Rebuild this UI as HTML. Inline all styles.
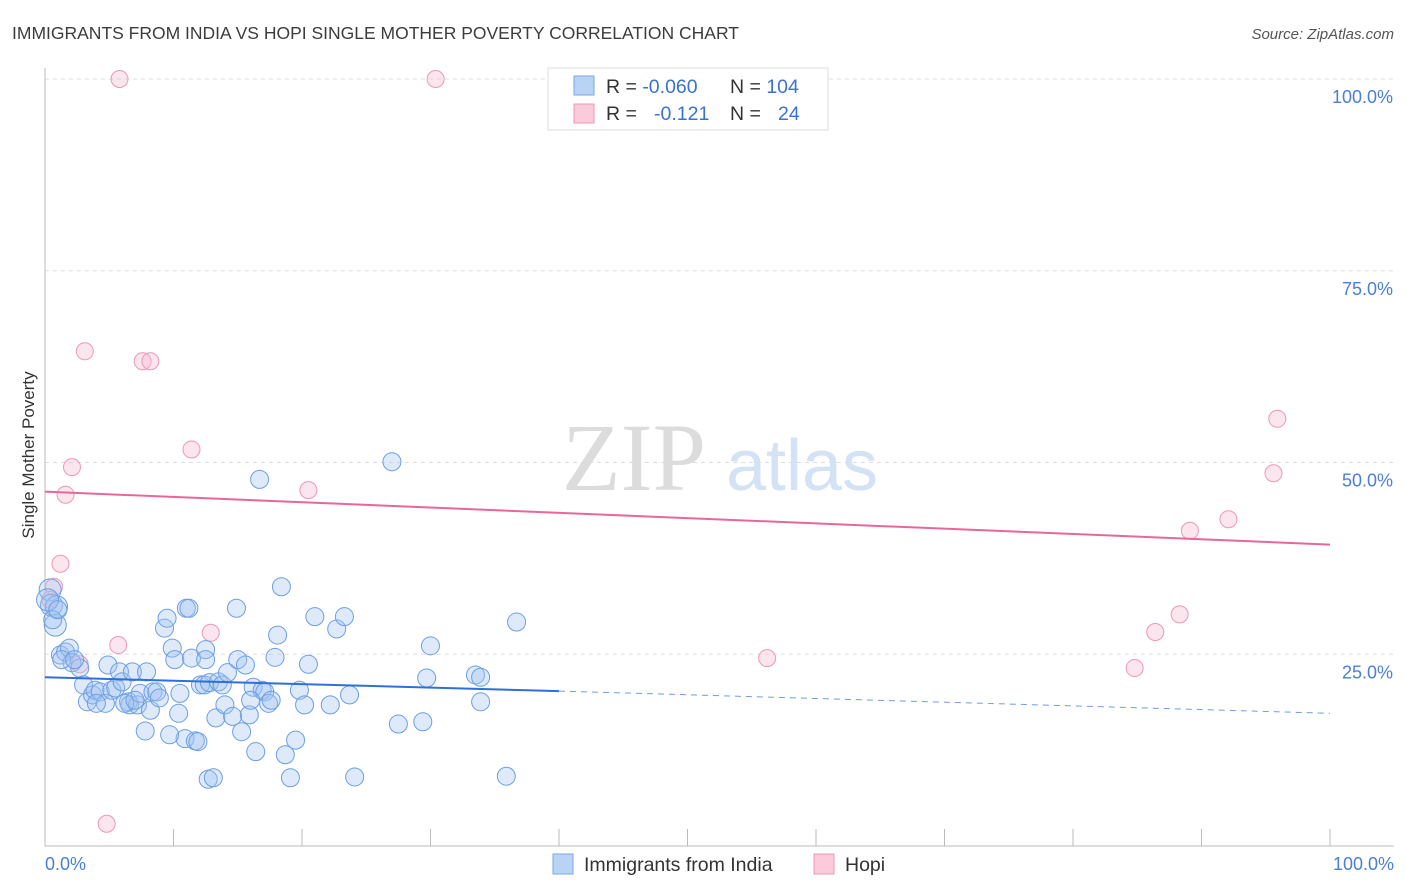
<!DOCTYPE html>
<html><head><meta charset="utf-8"><style>
body{margin:0;background:#fff;font-family:"Liberation Sans",sans-serif}
svg{display:block}
</style></head><body>
<svg id="chart" width="1406" height="892">
<text x="12" y="39" font-size="17.5" fill="#3c3c3c">IMMIGRANTS FROM INDIA VS HOPI SINGLE MOTHER POVERTY CORRELATION CHART</text>
<text x="1394" y="39" font-size="15" fill="#555" font-style="italic" text-anchor="end">Source: ZipAtlas.com</text>
<g>
<text x="634" y="490" font-size="96" font-family="Liberation Serif,serif" fill="#dcdcdc" text-anchor="middle">ZIP</text>
<text x="802" y="490" font-size="72" fill="#d4e2f5" text-anchor="middle">atlas</text>
</g>
<g id="grid"></g>
<g id="axes"></g>
<g id="pts"></g>
<g id="lines"></g>
<text x="34" y="455" font-size="17" fill="#333" text-anchor="middle" transform="rotate(-90 34 455)">Single Mother Poverty</text>
<text x="45" y="870" font-size="18" fill="#4a7fd4">0.0%</text>
<text x="1394" y="870" font-size="18" fill="#4a7fd4" text-anchor="end">100.0%</text>
<g>
<rect x="548" y="68" width="280" height="62" fill="#fff" stroke="#ddd"/>
<rect x="574" y="76" width="20" height="19" fill="#b9d3f5" stroke="#7aa6e6"/>
<rect x="574" y="104" width="20" height="19" fill="#fbcadb" stroke="#ee97b5"/>
<text x="606" y="93" font-size="19.5" fill="#333">R = <tspan fill="#3a72d0">-0.060</tspan><tspan x="730">N = </tspan><tspan fill="#3a72d0">104</tspan></text>
<text x="606" y="120" font-size="19.5" fill="#333">R = <tspan x="654" fill="#3a72d0">-0.121</tspan><tspan x="730">N = </tspan><tspan x="778" fill="#3a72d0">24</tspan></text>
</g>
<g>
<rect x="553" y="854" width="20" height="20" fill="#b9d3f5" stroke="#7aa6e6"/>
<text x="584" y="871" font-size="19.5" fill="#333">Immigrants from India</text>
<rect x="814" y="854" width="20" height="20" fill="#fbcadb" stroke="#ee97b5"/>
<text x="845" y="871" font-size="19.5" fill="#333">Hopi</text>
</g>
</svg>
<script>
const indiaX=[0.4,0.5,0.8,0.9,0.2,1.2,1.6,1.9,2.1,2.7,3.0,3.3,3.7,3.9,4.3,4.7,4.9,5.2,5.5,5.8,6.0,6.5,6.6,6.8,7.2,7.4,7.8,7.9,8.2,8.4,8.7,8.9,9.3,9.5,9.9,10.1,10.4,10.5,10.9,11.0,11.2,11.4,11.7,11.9,12.1,12.4,12.5,12.7,12.8,13.1,13.3,13.5,13.8,14.0,14.2,14.6,14.9,15.0,15.3,15.6,15.9,16.2,16.4,16.7,16.9,17.1,17.4,17.6,17.9,18.1,18.4,18.7,19.1,19.8,20.2,20.5,21.0,22.2,22.7,23.3,23.7,24.1,27.0,27.5,29.4,29.7,30.0,33.5,33.9,33.9,35.9,36.7,0.6,1.0,1.3,2.3,4.0,6.2,7.0,9.7,12.5,16.0,19.5];
const indiaY=[33.4,31.4,28.8,31.2,32.1,24.9,25.3,25.8,23.9,23.2,21.0,18.8,19.7,20.3,20.1,18.6,23.6,20.3,20.6,22.7,21.4,18.8,18.4,22.7,18.4,19.9,15.0,22.7,17.7,20.1,20.1,19.3,28.4,29.7,25.8,24.3,17.3,19.9,14.0,31.0,31.0,24.5,13.7,13.6,21.0,21.0,25.6,8.7,21.3,8.9,16.7,21.4,21.0,18.4,22.6,16.9,31.0,24.3,14.9,23.6,17.1,20.7,12.3,47.8,20.3,20.1,18.6,19.0,24.6,27.5,33.8,11.9,8.9,20.3,18.4,23.7,29.9,18.4,28.3,29.9,19.7,9.0,50.1,15.9,16.2,21.9,26.1,22.3,22.0,18.8,9.1,29.2,29.5,30.8,24.3,24.3,18.6,18.6,19.0,14.5,24.3,19.0,13.8];
const hopiX=[5.8,30.4,3.1,7.6,8.2,11.4,2.1,1.6,20.5,1.2,0.7,0.4,5.7,12.9,4.8,56.2,84.8,86.4,88.3,89.1,92.1,95.6,95.9,2.7];
const hopiY=[100,100,64.5,63.2,63.2,51.7,49.4,45.8,46.4,36.8,33.8,32.1,26.2,27.8,2.9,24.5,23.2,27.9,30.2,41.1,42.6,48.6,55.7,23.7];
const indiaTrend=[22.0,20.2,17.3]; // y at x=0, 40, 100
const hopiTrend=[46.2,39.3];
const yTicks=[25,50,75,100];
const yTickLabels=["25.0%","50.0%","75.0%","100.0%"];
const xTickCount=10;

const X0=45,X1=1330,Y0=846,Y1=79;
const sx=v=>X0+(X1-X0)*v/100, sy=v=>Y0-(Y0-Y1)*v/100;
const NS="http://www.w3.org/2000/svg";
function mk(t,a,p){const e=document.createElementNS(NS,t);for(const k in a)e.setAttribute(k,a[k]);p.appendChild(e);return e;}
const grid=document.getElementById('grid'),axes=document.getElementById('axes');
yTicks.forEach((t,i)=>{
 const l=mk('line',{x1:X0,x2:1394,y1:sy(t),y2:sy(t),stroke:'#ddd','stroke-dasharray':'4,4'},grid);
 
 
 const tx=mk('text',{x:1393,y:sy(t)+24,'font-size':18,fill:'#4a7fd4','text-anchor':'end'},axes);
 tx.textContent=yTickLabels[i];
 
 
});
mk('line',{x1:X0,x2:X0,y1:68,y2:Y0,stroke:'#bbb'},axes);
mk('line',{x1:X0,x2:1394,y1:Y0,y2:Y0,stroke:'#bbb'},axes);
for(let i=1;i<=xTickCount;i++){
 const t=mk('line',{x1:sx(i*10),x2:sx(i*10),y1:829,y2:Y0,stroke:'#bbb'},axes);
 
 
}
const pts=document.getElementById('pts');
hopiX.forEach((x,i)=>{
 const c=mk('circle',{cx:sx(x),cy:sy(hopiY[i]),r:8.5,fill:'rgba(247,182,204,0.35)',stroke:'#ee97b5','stroke-width':1},pts);
 
 
});
indiaX.forEach((x,i)=>{
 const c=mk('circle',{cx:sx(x),cy:sy(indiaY[i]),r:i<5?11:9,fill:'rgba(160,196,240,0.35)',stroke:'#6d9ee3','stroke-width':1},pts);
 
 
});
const lines=document.getElementById('lines');
let l1=mk('line',{x1:sx(0),y1:sy(indiaTrend[0]),x2:sx(40),y2:sy(indiaTrend[1]),stroke:'#2f6fd6','stroke-width':2},lines);


let l2=mk('line',{x1:sx(40),y1:sy(indiaTrend[1]),x2:sx(100),y2:sy(indiaTrend[2]),stroke:'#6d9ee3','stroke-width':1,'stroke-dasharray':'6,5'},lines);


let l3=mk('line',{x1:sx(0),y1:sy(hopiTrend[0]),x2:sx(100),y2:sy(hopiTrend[1]),stroke:'#e8679a','stroke-width':2},lines);


</script>
</body></html>
